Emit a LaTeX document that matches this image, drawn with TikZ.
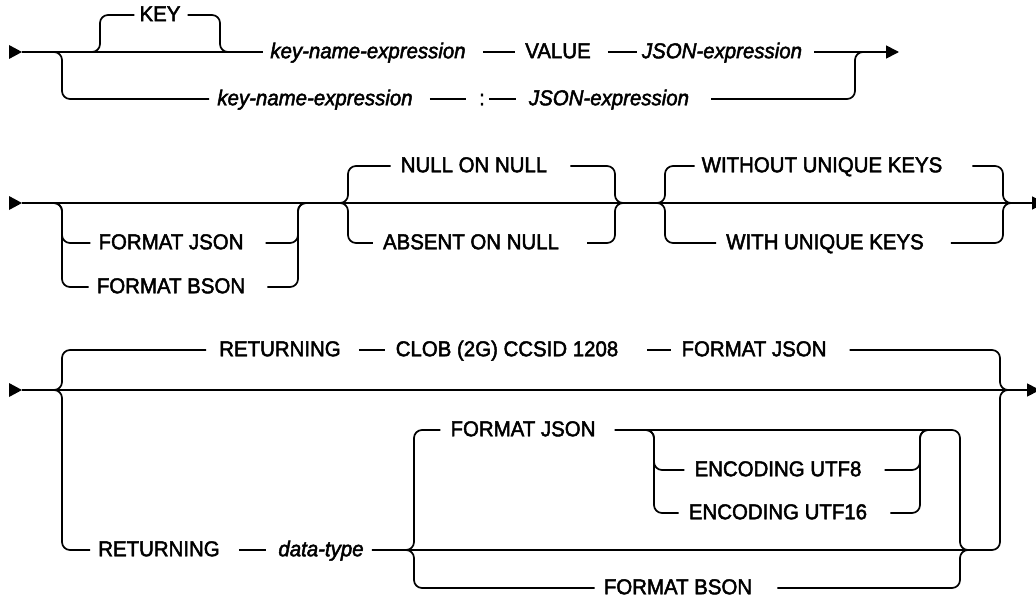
\documentclass[tikz,border=0pt]{standalone}
\usepackage{fontspec}
\setmainfont{Liberation Sans}[FakeBold=2.2,FakeStretch=0.95]
\usetikzlibrary{arrows.meta}
\begin{document}
\begin{tikzpicture}[x=1pt,y=-1pt,
  ln/.style={line width=1.7pt, rounded corners=8pt},
  t/.style={inner sep=0pt, text height=15.5pt, text depth=3pt, anchor=center, font=\fontsize{21.5}{25}\selectfont},
  it/.style={t, font=\fontsize{21.5}{25}\selectfont\itshape},
  tip/.style={-{Triangle[length=13pt,width=13pt]}},
]
\useasboundingbox[fill=white] (0,0) rectangle (1036,602);

% ---------------- Row 1 ----------------
\coordinate (s1) at (22,52);
\coordinate (a1) at (53,52);
\coordinate (b1) at (91,52);
\coordinate (c1) at (229,52);
\coordinate (d1) at (864,52);
\coordinate (e1) at (899,52);
\node[t]  (key) at (160,15) {KEY};
\node[it] (kn1) at (368,52) {key-name-expression};
\node[t]  (val) at (558,52) {VALUE};
\node[it] (je1) at (722,52) {JSON-expression};
\node[it] (kn2) at (315,99) {key-name-expression};
\node[t]  (col) at (482,99) {:};
\node[it] (je2) at (609,99) {JSON-expression};

\fill (s1) -- ++(-13,-7) -- ++(0,14) -- cycle;
\draw[ln,shorten >=7pt] (s1) -- (kn1);
\draw[ln,shorten >=8pt] (a1) -- ++(9,0) |- (kn2);
\draw[ln,shorten >=5pt] (b1) -- ++(9,0) |- (key);
\draw[ln,shorten <=7pt] (key) -| ([xshift=-9pt]c1) -- (c1);
\draw[ln,shorten <=17pt,shorten >=10pt] (kn1) -- (val);
\draw[ln,shorten <=17pt,shorten >=5pt] (val) -- (je1);
\draw[ln,tip,shorten <=12pt] (je1) -- (e1);
\draw[ln,shorten <=17pt,shorten >=13pt] (kn2) -- (col);
\draw[ln,shorten <=4pt,shorten >=13pt] (col) -- (je2);
\draw[ln,shorten <=22pt] (je2) -| ([xshift=-9pt]d1) -- (d1);

% ---------------- Row 2 ----------------
\coordinate (s2) at (22,203);
\coordinate (e2) at (1045,203);
\coordinate (a2) at (53,203);
\coordinate (b2) at (307,203);
\coordinate (c2) at (339,203);
\coordinate (d2) at (624,203);
\coordinate (f2) at (656,203);
\coordinate (g2) at (1012,203);
\node[t] (fj2) at (171,243) {FORMAT JSON};
\node[t] (fb2) at (171,287) {FORMAT BSON};
\node[t] (nn)  at (474,166) {NULL ON NULL};
\node[t] (an)  at (471,243) {ABSENT ON NULL};
\node[t] (wo)  at (822,166) {WITHOUT UNIQUE KEYS};
\node[t] (wi)  at (825,243) {WITH UNIQUE KEYS};

\fill (s2) -- ++(-13,-7) -- ++(0,14) -- cycle;
\draw[ln,tip] (s2) -- (e2);
\draw[ln,shorten >=8pt] (a2) -- ++(9,0) |- (fj2);
\draw[ln,shorten >=8pt] (a2) -- ++(9,0) |- (fb2);
\draw[ln,shorten <=22pt] (fj2) -| ([xshift=-9pt]b2) -- (b2);
\draw[ln,shorten <=22pt] (fb2) -| ([xshift=-9pt]b2) -- (b2);
\draw[ln,shorten >=10pt] (c2) -- ++(9,0) |- (nn);
\draw[ln,shorten >=10pt] (c2) -- ++(9,0) |- (an);
\draw[ln,shorten <=23pt] (nn) -| ([xshift=-9pt]d2) -- (d2);
\draw[ln,shorten <=28pt] (an) -| ([xshift=-9pt]d2) -- (d2);
\draw[ln,shorten >=7pt] (f2) -- ++(9,0) |- (wo);
\draw[ln,shorten >=10pt] (f2) -- ++(9,0) |- (wi);
\draw[ln,shorten <=30pt] (wo) -| ([xshift=-9pt]g2) -- (g2);
\draw[ln,shorten <=27pt] (wi) -| ([xshift=-9pt]g2) -- (g2);

% ---------------- Row 3 ----------------
\coordinate (s3) at (22,390);
\coordinate (e3) at (1040,390);
\coordinate (a3) at (53,390);
\coordinate (b3) at (1009,390);
\coordinate (p3) at (405,550);
\coordinate (q3) at (969,550);
\coordinate (r3) at (645,430);
\coordinate (t3) at (929,430);
\node[t]  (rt1)  at (280,350) {RETURNING};
\node[t]  (clob) at (507,350) {CLOB (2G) CCSID 1208};
\node[t]  (fj3)  at (754,350) {FORMAT JSON};
\node[t]  (rt2)  at (159,550) {RETURNING};
\node[it] (dt)   at (321,550) {data-type};
\node[t]  (fj4)  at (523,430) {FORMAT JSON};
\node[t]  (eu8)  at (778,470) {ENCODING UTF8};
\node[t]  (eu16) at (778,513) {ENCODING UTF16};
\node[t]  (fb3)  at (678,588) {FORMAT BSON};

\fill (s3) -- ++(-13,-7) -- ++(0,14) -- cycle;
\draw[ln,tip] (s3) -- (e3);
\draw[ln,shorten >=13pt] (a3) -- ++(9,0) |- (rt1);
\draw[ln,shorten <=18pt,shorten >=11pt] (rt1) -- (clob);
\draw[ln,shorten <=29pt,shorten >=10pt] (clob) -- (fj3);
\draw[ln,shorten <=23pt] (fj3) -| ([xshift=-9pt]b3) -- (b3);
\draw[ln,shorten >=8pt] (a3) -- ++(9,0) |- (rt2);
\draw[ln,shorten <=19pt,shorten >=12pt] (rt2) -- (dt);
\draw[ln,shorten <=8pt] (dt) -| ([xshift=-9pt]b3) -- (b3);
\draw[ln,shorten >=10pt] (p3) -- ++(9,0) |- (fj4);
\draw[ln,shorten <=19pt] (fj4) -| ([xshift=-9pt]q3) -- (q3);
\draw[ln,shorten >=10pt] (r3) -- ++(9,0) |- (eu8);
\draw[ln,shorten >=10pt] (r3) -- ++(9,0) |- (eu16);
\draw[ln,shorten <=23pt] (eu8) -| ([xshift=-9pt]t3) -- (t3);
\draw[ln,shorten <=23pt] (eu16) -| ([xshift=-9pt]t3) -- (t3);
\draw[ln,shorten >=9pt] (p3) -- ++(9,0) |- (fb3);
\draw[ln,shorten <=25pt] (fb3) -| ([xshift=-9pt]q3) -- (q3);
\end{tikzpicture}
\end{document}
